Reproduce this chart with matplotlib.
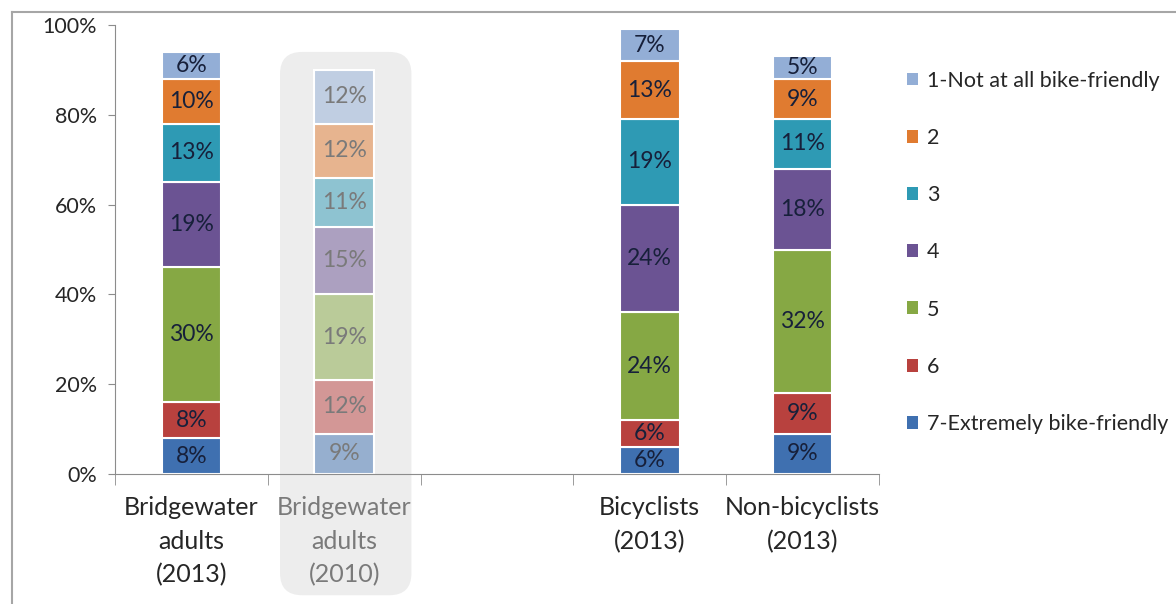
import numpy as np
import matplotlib
matplotlib.use("Agg")
import matplotlib.pyplot as plt
from matplotlib.patches import FancyBboxPatch, Patch
from matplotlib.transforms import IdentityTransform
from matplotlib.colors import to_rgb

plt.rcParams['font.family'] = ['Lato', 'DejaVu Sans']

groups = ["Bridgewater\nadults\n(2013)", "Bridgewater\nadults\n(2010)", "Bicyclists\n(2013)", "Non-bicyclists\n(2013)"]
group_pos = [0, 1, 3, 4]

# rating shares, bottom (7) to top (1)
ratings = ["7-Extremely bike-friendly", "6", "5", "4", "3", "2", "1-Not at all bike-friendly"]
r7 = [8, 9, 6, 9]
r6 = [8, 12, 6, 9]
r5 = [30, 19, 24, 32]
r4 = [19, 15, 24, 18]
r3 = [13, 11, 19, 11]
r2 = [10, 12, 13, 9]
r1 = [6, 12, 7, 5]
series = [r7, r6, r5, r4, r3, r2, r1]

colors = ["#3F70B0", "#B8413E", "#86A844", "#6B5393", "#2E9AB4", "#E07B30", "#93AED6"]
faded_bg = "#EDEDED"

def fade(c, a=0.5):
    c = np.array(to_rgb(c))
    b = np.array(to_rgb(faded_bg))
    return tuple(a * c + (1 - a) * b)

fig = plt.figure(figsize=(11.76, 6.04), dpi=100)
ax = fig.add_axes([115 / 1176, 1 - 474 / 604, (879 - 115) / 1176, (474 - 25) / 604])
ax.set_xlim(-0.5, 4.5)
ax.set_ylim(0, 100)

# shaded panel behind the 2010 column
fig.canvas.draw()
x0, y0 = ax.transData.transform((0.58, -27))
x1, y1 = ax.transData.transform((1.44, 94))
panel = FancyBboxPatch((x0, y0), x1 - x0, y1 - y0,
                       boxstyle="round,pad=0,rounding_size=22",
                       transform=IdentityTransform(), facecolor=faded_bg,
                       edgecolor="none", clip_on=False, zorder=0)
ax.add_patch(panel)

width = 0.39
bottom = np.zeros(len(group_pos))
for vals, col in zip(series, colors):
    vals = np.array(vals, dtype=float)
    for i, (x, v) in enumerate(zip(group_pos, vals)):
        old = (i == 1)
        ax.bar(x, v, width, bottom=bottom[i], color=fade(col) if old else col,
               edgecolor="white", linewidth=1.5, zorder=2)
        ax.text(x, bottom[i] + v / 2, f"{int(v)}%", ha="center", va="center",
                fontsize=16.5, color="#7A7A7A" if old else "#17203A", zorder=3)
    bottom += vals

# axes styling
for s in ["top", "right"]:
    ax.spines[s].set_visible(False)
for s in ["left", "bottom"]:
    ax.spines[s].set_color("#8C8C8C")
ax.set_yticks(np.arange(0, 101, 20))
ax.set_yticklabels([f"{t}%" for t in range(0, 101, 20)], fontsize=15.5, color="#262626")
ax.tick_params(axis="y", length=5, color="#8C8C8C", pad=8)
ax.set_xticks(group_pos)
ax.set_xticklabels(groups, fontsize=18, linespacing=1.55)
ax.tick_params(axis="x", length=0, pad=16)
for lbl, g in zip(ax.get_xticklabels(), range(len(groups))):
    lbl.set_color("#7A7A7A" if g == 1 else "#262626")
ax.set_xticks(np.arange(-0.5, 4.6, 1), minor=True)
ax.tick_params(axis="x", which="minor", length=8, color="#8C8C8C")

# legend, 1 at the top
handles = [Patch(facecolor=c, edgecolor="none") for c in colors][::-1]
leg = fig.legend(handles, ratings[::-1], loc="upper left",
                 bbox_to_anchor=(898 / 1176, 1 - 62 / 604), frameon=False,
                 fontsize=15.5, labelspacing=1.73, handlelength=0.55,
                 handleheight=0.55, handletextpad=0.4, borderaxespad=0)
for t in leg.get_texts():
    t.set_color("#262626")

# outer frame lines
fig.add_artist(plt.Line2D([12 / 1176, 12 / 1176], [0, 1 - 12 / 604], color="#A6A6A6", lw=1.5))
fig.add_artist(plt.Line2D([12 / 1176, 1], [1 - 12 / 604, 1 - 12 / 604], color="#A6A6A6", lw=1.5))

fig.savefig("out.png", dpi=100)
